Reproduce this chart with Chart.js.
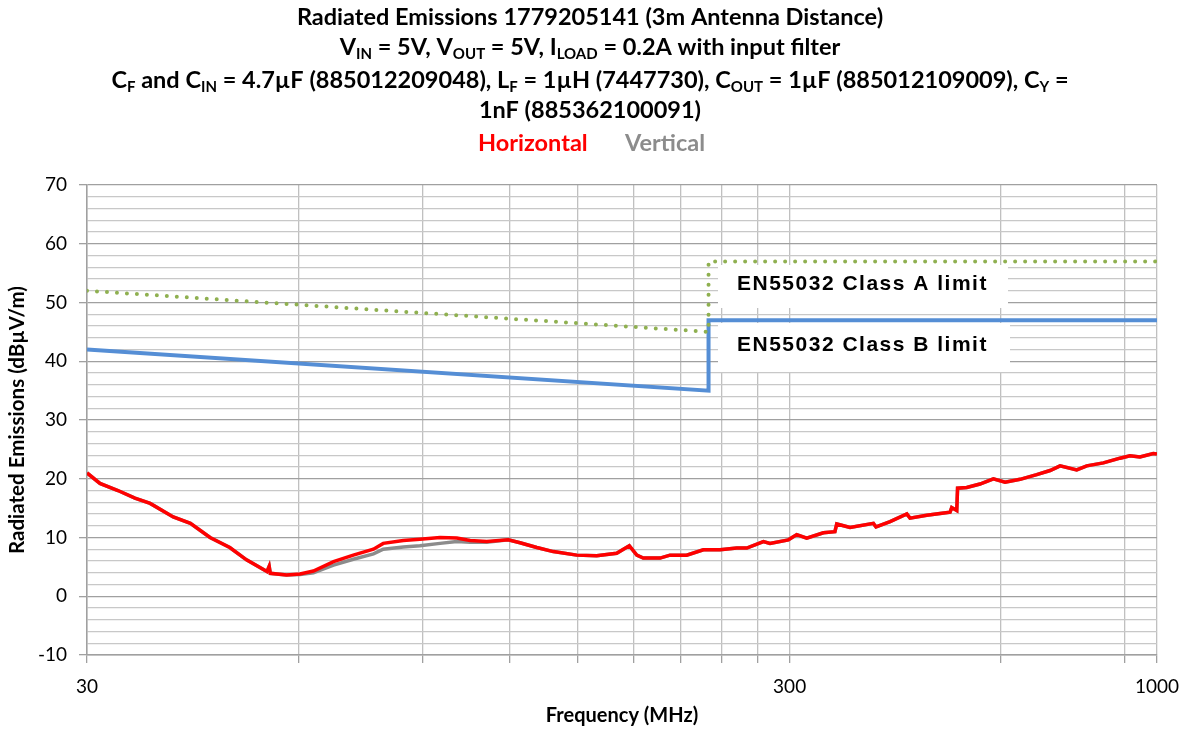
<!DOCTYPE html>
<html><head><meta charset="utf-8">
<script src="https://cdn.jsdelivr.net/npm/chart.js@4.4.1/dist/chart.umd.min.js"></script>
<style>html,body{margin:0;padding:0;background:#fff;}#wrap{width:1185px;height:731px;}</style>
</head><body><div id="wrap"><canvas id="c" width="1185" height="731"></canvas></div>
<script>
// ---- data ----
const freqMHz = [30, 31.3, 33.2, 35.1, 36.9, 39.8, 42.1, 44.9, 47.9, 50.6,
  54.1, 54.5, 54.7, 57.7, 60.3, 63.0, 67.3, 71.8, 76.7, 79.2,
  84.6, 89.3, 95.4, 100.8, 105.3, 111.2, 119.3, 124.0, 131.0, 138.3,
  149.3, 159.4, 170.2, 177.4, 181.8, 185.7, 196.2, 202.7, 214.1, 226.1,
  238.9, 252.3, 260.7, 275.3, 281.3, 298.8, 307.1, 317.3, 335.1, 348.0,
  350.1, 365.7, 394.8, 398.2, 417.0, 440.5, 445.1, 470.2, 491.2, 507.5,
  510.3, 518.8, 520.2, 536.1, 559.8, 584.9, 607.8, 638.5, 674.2, 704.4,
  727.9, 768.7, 794.4, 838.9, 885.8, 915.2, 945.6, 987.9, 1000];
const horizontal = [21.0, 19.2, 18.0, 16.7, 15.8, 13.5, 12.4, 10.0, 8.3, 6.2,
  4.2, 5.1, 3.9, 3.6, 3.8, 4.3, 5.9, 7.0, 8.0, 9.0,
  9.5, 9.7, 10.0, 9.9, 9.5, 9.3, 9.6, 9.1, 8.3, 7.6,
  7.0, 6.9, 7.3, 8.6, 7.0, 6.5, 6.5, 7.0, 7.0, 7.9,
  7.9, 8.2, 8.2, 9.3, 9.0, 9.6, 10.5, 9.9, 10.8, 11.0,
  12.3, 11.7, 12.4, 11.8, 12.7, 14.0, 13.3, 13.8, 14.1, 14.3,
  15.1, 14.6, 18.4, 18.5, 19.1, 20.0, 19.4, 19.9, 20.7, 21.4,
  22.2, 21.5, 22.2, 22.7, 23.5, 23.9, 23.7, 24.3, 24.2];
const vertical = [21.0, 19.2, 18.0, 16.7, 15.8, 13.5, 12.4, 10.0, 8.3, 6.2,
  4.2, 5.1, 3.9, 3.6, 3.7, 4.0, 5.3, 6.3, 7.2, 8.0,
  8.4, 8.6, 9.0, 9.3, 9.2, 9.2, 9.6, 9.1, 8.3, 7.6,
  7.0, 6.9, 7.3, 8.6, 7.0, 6.5, 6.5, 7.0, 7.0, 7.9,
  7.9, 8.2, 8.2, 9.3, 9.0, 9.6, 10.5, 9.9, 10.8, 11.0,
  12.3, 11.7, 12.4, 11.8, 12.7, 14.0, 13.3, 13.8, 14.1, 14.3,
  15.1, 14.6, 18.4, 18.5, 19.1, 20.0, 19.4, 19.9, 20.7, 21.4,
  22.2, 21.5, 22.2, 22.7, 23.5, 23.9, 23.7, 24.3, 24.2];
const limitFreq = [30, 230, 230, 1000];
const classA = [52, 45, 57, 57];
const classB = [42, 35, 47, 47];
const xTickValues = [30, 60, 90, 120, 150, 180, 210, 240, 270, 300, 600, 900, 1000];
const xTickLabels = {30: '30', 300: '300', 1000: '1000'};
const seriesNames = ['Horizontal', 'Vertical'];
const limitNames = ['EN55032 Class A limit', 'EN55032 Class B limit'];
const titleLines = [
  [['Radiated Emissions 1779205141 (3m Antenna Distance)', 0]],
  [['V', 0], ['IN', 1], [' = 5V, V', 0], ['OUT', 1], [' = 5V, I', 0], ['LOAD', 1], [' = 0.2A with input filter', 0]],
  [['C', 0], ['F', 1], [' and C', 0], ['IN', 1], [' = 4.7\u00b5F (885012209048), L', 0], ['F', 1], [' = 1\u00b5H (7447730), C', 0], ['OUT', 1], [' = 1\u00b5F (885012109009), C', 0], ['Y', 1], [' =', 0]],
  [['1nF (885362100091)', 0]]
];
const xTitle = 'Frequency (MHz)';
const yTitle = 'Radiated Emissions (dB\u00b5V/m)';

// ---- styling ----
const FONT = 'Lato, "Open Sans", sans-serif';
const RED = '#FF0000', GRAY = '#8C8C8C', BLUE = '#558ED5', GREEN = '#8FB050';

const pts = (xs, ys) => xs.map((x, i) => ({x: x, y: ys[i]}));

function drawRich(ctx, segs, cx, cy, size) {
  const sub = Math.round(size * 0.62);
  let total = 0; const ws = [];
  segs.forEach(s => { ctx.font = 'bold ' + (s[1] ? sub : size) + 'px ' + FONT; const w = ctx.measureText(s[0]).width; ws.push(w); total += w; });
  let x = cx - total / 2;
  ctx.textBaseline = 'middle'; ctx.textAlign = 'left'; ctx.fillStyle = '#000';
  segs.forEach((s, i) => {
    ctx.font = 'bold ' + (s[1] ? sub : size) + 'px ' + FONT;
    ctx.fillText(s[0], x, s[1] ? cy + size * 0.3 : cy);
    x += ws[i];
  });
}

const decor = {
  id: 'decor',
  beforeDatasetsDraw(chart) {
    const ctx = chart.ctx;
    ctx.save();
    ctx.fillStyle = '#fff';
    ctx.fillRect(718, 265, 290, 43);
    ctx.fillRect(718, 323, 292, 49);
    ctx.fillStyle = '#000';
    ctx.font = 'bold 21px "Liberation Sans", Arial, sans-serif';
    ctx.letterSpacing = '1.5px';
    ctx.textBaseline = 'middle'; ctx.textAlign = 'left';
    ctx.fillText(limitNames[0], 737, 284);
    ctx.fillText(limitNames[1], 737, 345);
    ctx.restore();
  },
  afterDraw(chart) {
    const ctx = chart.ctx;
    ctx.save();
    const cx = 590;
    const ys = [17, 47, 80, 110];
    titleLines.forEach((l, i) => drawRich(ctx, l, cx, ys[i], 23.5));
    ctx.font = 'bold 23.5px ' + FONT;
    ctx.textBaseline = 'middle'; ctx.textAlign = 'left';
    ctx.fillStyle = RED; ctx.fillText(seriesNames[0], 478, 143);
    ctx.fillStyle = GRAY; ctx.fillText(seriesNames[1], 625, 143);
    ctx.restore();
  }
};

new Chart(document.getElementById('c'), {
  type: 'line',
  data: {
    datasets: [
      {label: seriesNames[0], data: pts(freqMHz, horizontal), borderColor: RED, borderWidth: 3.5, pointRadius: 0, order: 1},
      {label: seriesNames[1], data: pts(freqMHz, vertical), borderColor: GRAY, borderWidth: 3.5, pointRadius: 0, order: 2},
      {label: limitNames[0], data: pts(limitFreq, classA), borderColor: GREEN, borderWidth: 4, borderDash: [0, 10], borderCapStyle: 'round', pointRadius: 0, order: 3},
      {label: limitNames[1], data: pts(limitFreq, classB), borderColor: BLUE, borderWidth: 4, pointRadius: 0, order: 4}
    ]
  },
  options: {
    responsive: false, animation: false, devicePixelRatio: 1,
    layout: {padding: {top: 185, right: 28, bottom: 0, left: 0}},
    plugins: {legend: {display: false}, title: {display: false}, tooltip: {enabled: false}},
    scales: {
      x: {
        type: 'logarithmic', min: 30, max: 1000,
        afterBuildTicks: (s) => { s.ticks = xTickValues.map(v => ({value: v})); },
        afterFit: (s) => { s.height = 76; s.paddingRight = 0; s.paddingLeft = 0; },
        ticks: {autoSkip: false, maxRotation: 0, padding: 12, color: '#000', font: {family: FONT, size: 19},
          callback: (v) => xTickLabels[v] || ''},
        grid: {color: '#C0C0C0', lineWidth: 1.3, tickLength: 8, tickColor: '#A0A0A0'},
        border: {color: '#A0A0A0', width: 1.5},
        title: {display: true, text: xTitle, color: '#000', font: {family: FONT, size: 20, weight: 'bold'}, padding: {top: 0, bottom: 3}}
      },
      y: {
        min: -10, max: 70,
        afterFit: (s) => { s.width = 87; s.paddingTop = 0; s.paddingBottom = 0; },
        ticks: {stepSize: 2, autoSkip: false, padding: 12, color: '#000', font: {family: FONT, size: 19},
          callback: (v) => (v % 10 === 0 ? String(v) : '')},
        grid: {
          color: (c) => (c.tick && c.tick.value % 10 === 0 ? '#A0A0A0' : '#C8C8C8'),
          tickColor: (c) => (c.tick && c.tick.value % 10 === 0 ? '#A0A0A0' : 'rgba(0,0,0,0)'),
          lineWidth: 1.3, tickLength: 8
        },
        border: {color: '#A0A0A0', width: 1.5},
        title: {display: true, text: yTitle, color: '#000', font: {family: FONT, size: 20.5, weight: 'bold'}, padding: {top: 5, bottom: 0}}
      }
    }
  },
  plugins: [decor]
});
</script></body></html>
